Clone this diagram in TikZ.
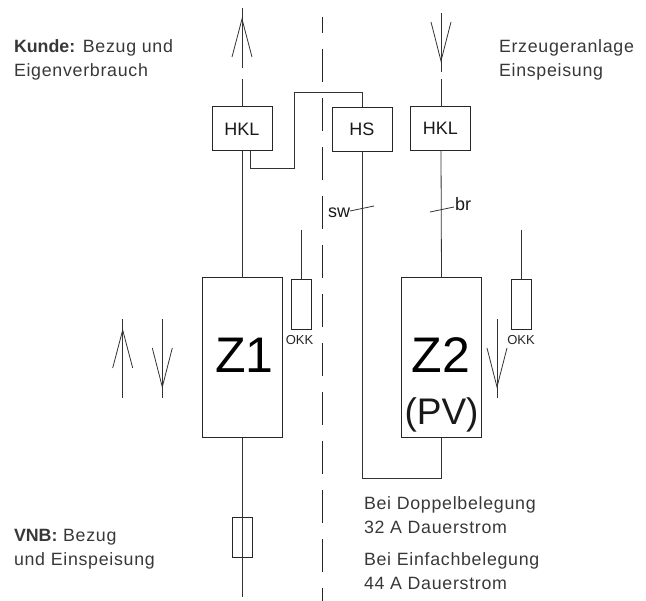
\documentclass[tikz,border=0pt]{standalone}
\usepackage{fontspec}
\setmainfont{Liberation Sans}
\newfontfamily\lblfont[LetterSpace=4]{Liberation Sans}
\newcommand{\hd}[1]{{\rmfamily\bfseries #1}}
\tikzset{
  wire/.style={line width=0.8pt,draw=black!80},
  boxn/.style={draw=black!85,line width=1pt,rectangle,inner sep=0pt,outer sep=0pt,align=center,text=black!90},
  hk/.style={boxn,minimum width=60pt,minimum height=44pt,font=\fontsize{18}{18}\selectfont},
  meter/.style={boxn,minimum width=80pt,minimum height=160pt},
  okkb/.style={boxn,minimum width=20pt,minimum height=50pt},
  lbl/.style={anchor=base west,inner sep=0pt,outer sep=0pt,font=\fontsize{17.8}{17.8}\lblfont,text=black!78},
  small/.style={anchor=base,inner sep=0pt,outer sep=0pt,font=\fontsize{13}{13}\selectfont,text=black!85},
  tag/.style={anchor=base,inner sep=0pt,outer sep=0pt,font=\fontsize{18}{18}\selectfont,text=black!90}
}
\newcommand{\uparrowsym}[3]{\draw[wire] (#1,#2) -- (#1,#3);
  \draw[wire] (#1-10,#2+49) -- (#1,#2+11) -- (#1+10,#2+49);}
\newcommand{\downarrowsym}[3]{\draw[wire] (#1,#2) -- (#1,#3);
  \draw[wire] (#1-10,#3-50) -- (#1,#3-11) -- (#1+10,#3-50);}
\begin{document}
\begin{tikzpicture}[x=1pt,y=-1pt]
\useasboundingbox (0,0) rectangle (646,601);
% centre dashed line
\draw[line width=0.8pt,draw=black!85] (322,17) -- (322,33);
\draw[line width=0.8pt,draw=black!85,dash pattern=on 33pt off 16pt] (322,49) -- (322,601);
% boxes
\node[hk] (hkla) at (242,129) {HKL};
\node[hk] (hs) at (362,129.5) {HS};
\node[hk] (hklb) at (440.5,129) {\raisebox{2pt}{HKL}};
\node[meter] (za) at (242,358) {};
\node[meter] (zb) at (441.5,358) {};
\node[okkb] (oa) at (301,305) {};
\node[okkb] (ob) at (521,305) {};
\node[boxn,minimum width=20pt,minimum height=40pt] (fuse) at (242,537.5) {};
% meter labels
\node[anchor=base,inner sep=0pt,font=\fontsize{50}{50}\selectfont,text=black] (zal) at (244.5,373) {Z1};
\node[anchor=base,inner sep=0pt,font=\fontsize{50}{50}\selectfont,text=black] (zbl) at (441,373) {Z2};
\node[anchor=base,inner sep=0pt,font=\fontsize{37}{37}\selectfont,text=black!90] (pv) at (441.5,425) {(PV)};
\node[small] (okka) at (299.5,345) {OKK};
\node[small] (okkb) at (521,345) {OKK};
\node[tag] (sw) at (339,218) {sw};
\node[tag] (br) at (463,211) {br};
% free ends
\coordinate (ta) at (242,79);
\coordinate (tb) at (441,79);
\coordinate (boa) at (242,597);
\coordinate (oat) at (301,230);
\coordinate (obt) at (521,230);
\coordinate (hkx) at ([xshift=8pt]hkla.south);
% connectors
\draw[wire] (ta) -- (hkla.north);
\draw[wire] (tb) -- (tb |- hklb.north);
\draw[wire] (hkla.south) -- (za.north);
\draw[wire] (za.south) -- (boa);
\draw[wire] (tb |- hklb.south) -- (zb.north);
\draw[wire] (oat) -- (oa.north);
\draw[wire] (obt) -- (ob.north);
\draw[wire] (hkx) -- ++(0,17) -| (294,92) -| (hs.north);
\draw[wire] (hs.south) -- (362,478) -| (zb.south);
% ticks
\coordinate (swa) at (350,211);
\coordinate (swb) at (374,206);
\coordinate (bra) at (430,212);
\coordinate (brb) at (454,207);
\draw[wire] (swa) -- (swb);
\draw[wire] (bra) -- (brb);
% arrows
\uparrowsym{242}{8}{68}
\downarrowsym{441}{13}{72}
\uparrowsym{122.7}{319}{398}
\downarrowsym{162.3}{319}{398}
\downarrowsym{497}{319}{398}
% texts
\node[lbl] (t1) at (14,52.5) {\hd{Kunde:} Bezug und};
\node[lbl] (t2) at (14,76.5) {Eigenverbrauch};
\node[lbl] (t3) at (499,52.5) {Erzeugeranlage};
\node[lbl] (t4) at (499,76.5) {Einspeisung};
\node[lbl] (t5) at (14,541.5) {\hd{VNB:} Bezug};
\node[lbl] (t6) at (14,566) {und Einspeisung};
\node[lbl] (t7) at (364,510) {Bei Doppelbelegung};
\node[lbl] (t8) at (364,534) {32 A Dauerstrom};
\node[lbl] (t9) at (364,566) {Bei Einfachbelegung};
\node[lbl] (t10) at (364,590) {44 A Dauerstrom};
\end{tikzpicture}
\end{document}
